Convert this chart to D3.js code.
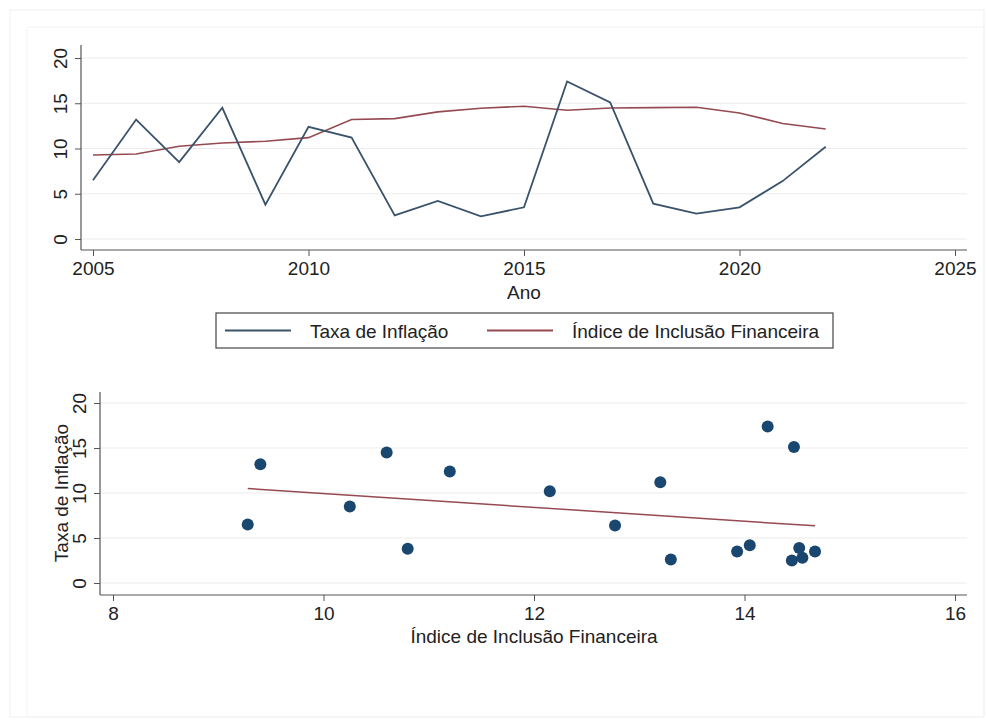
<!DOCTYPE html>
<html>
<head>
<meta charset="utf-8">
<script src="https://cdn.jsdelivr.net/npm/d3@7"></script>
<style>
    body { margin: 0; background: #fff; }
    svg { font-family: Arial, "Liberation Sans", sans-serif; }
    .tick text { fill: #222; }
</style>
</head>
<body>
<div id="chart"></div>
<script>
// Data
const years = [2005, 2006, 2007, 2008, 2009, 2010, 2011, 2012, 2013, 2014, 2015, 2016, 2017, 2018, 2019, 2020, 2021, 2022];
const inflation = [6.5, 13.2, 8.5, 14.5, 3.8, 12.4, 11.2, 2.6, 4.2, 2.5, 3.5, 17.4, 15.1, 3.9, 2.8, 3.5, 6.4, 10.2];
const inclusion = [9.28, 9.4, 10.25, 10.6, 10.8, 11.2, 13.2, 13.3, 14.05, 14.45, 14.67, 14.22, 14.47, 14.52, 14.55, 13.93, 12.77, 12.15];
const yearTicks = [2005, 2010, 2015, 2020, 2025];
const inclusionTicks = [8, 10, 12, 14, 16];
const inflationTicks = [0, 5, 10, 15, 20];
const seriesNames = ['Taxa de Inflação', 'Índice de Inclusão Financeira'];

const navy = '#3a536b';
const maroon = '#954a52';
const dotColor = '#1a476f';
const gridColor = '#ececec';
const axisColor = '#555';
const fontSize = 19;

const data = years.map((year, i) => ({ year, inflation: inflation[i], inclusion: inclusion[i] }));

const svg = d3.select('#chart')
    .append('svg')
    .attr('width', 986)
    .attr('height', 720);

// Outer frames
svg.append('rect')
    .attr('x', 10).attr('y', 10).attr('width', 974).attr('height', 707)
    .attr('fill', 'none').attr('stroke', '#efefef');
svg.append('rect')
    .attr('x', 27).attr('y', 27).attr('width', 957).attr('height', 690)
    .attr('fill', 'none').attr('stroke', '#f3f3f3');

// Draw a Stata-like axis pair
function drawAxes(g, x, y, xTicks, yTicks, xFormat, box) {
    // Grid
    g.append('g')
        .selectAll('line')
        .data(yTicks)
        .join('line')
        .attr('x1', box.left)
        .attr('x2', box.right)
        .attr('y1', d => y(d))
        .attr('y2', d => y(d))
        .attr('stroke', gridColor)
        .attr('stroke-width', 1.2);

    // Y axis
    const yAxis = g.append('g')
        .attr('transform', `translate(${box.left},0)`)
        .call(d3.axisLeft(y).tickValues(yTicks).tickSize(6).tickPadding(6).tickSizeOuter(0));
    yAxis.select('.domain').remove();
    yAxis.append('line')
        .attr('y1', box.top).attr('y2', box.bottom)
        .attr('stroke', axisColor).attr('stroke-width', 1.2);
    yAxis.selectAll('.tick line').attr('stroke', axisColor);
    yAxis.selectAll('.tick text')
        .attr('font-size', fontSize)
        .attr('x', 0).attr('dy', 0)
        .attr('text-anchor', 'middle')
        .attr('transform', 'translate(-14,0) rotate(-90)');

    // X axis
    const xAxis = g.append('g')
        .attr('transform', `translate(0,${box.bottom})`)
        .call(d3.axisBottom(x).tickValues(xTicks).tickFormat(xFormat).tickSize(6).tickPadding(6).tickSizeOuter(0));
    xAxis.select('.domain').remove();
    xAxis.append('line')
        .attr('x1', box.left).attr('x2', box.right)
        .attr('stroke', axisColor).attr('stroke-width', 1.2);
    xAxis.selectAll('.tick line').attr('stroke', axisColor);
    xAxis.selectAll('.tick text').attr('font-size', fontSize);
}

// Top chart: time series
const topChart = svg.append('g');
const topBox = { left: 81, right: 967, top: 45, bottom: 250 };

const xTime = d3.scaleLinear()
    .domain([2005, 2025])
    .range([93, 955]);

const yTop = d3.scaleLinear()
    .domain([0, 20])
    .range([239, 58]);

drawAxes(topChart, xTime, yTop, yearTicks, inflationTicks, d3.format('d'), topBox);

topChart.append('text')
    .attr('x', xTime(2015))
    .attr('y', topBox.bottom + 49)
    .attr('text-anchor', 'middle')
    .attr('font-size', fontSize)
    .attr('fill', '#222')
    .text('Ano');

const line = key => d3.line()
    .x(d => xTime(d.year))
    .y(d => yTop(d[key]));

topChart.append('path')
    .datum(data)
    .attr('fill', 'none')
    .attr('stroke', maroon)
    .attr('stroke-width', 1.6)
    .attr('d', line('inclusion'));

topChart.append('path')
    .datum(data)
    .attr('fill', 'none')
    .attr('stroke', navy)
    .attr('stroke-width', 1.8)
    .attr('stroke-linejoin', 'miter')
    .attr('d', line('inflation'));

// Legend
const legend = svg.append('g')
    .attr('transform', 'translate(216,313)');

legend.append('rect')
    .attr('width', 617)
    .attr('height', 35)
    .attr('fill', '#fff')
    .attr('stroke', '#444')
    .attr('stroke-width', 1.2);

const legendItems = [
    { name: seriesNames[0], color: navy, x: 9 },
    { name: seriesNames[1], color: maroon, x: 271 }
];

legendItems.forEach(item => {
    legend.append('line')
        .attr('x1', item.x).attr('x2', item.x + 66)
        .attr('y1', 17.5).attr('y2', 17.5)
        .attr('stroke', item.color)
        .attr('stroke-width', 1.8);
    legend.append('text')
        .attr('x', item.x + 85)
        .attr('y', 24.5)
        .attr('font-size', fontSize)
        .attr('fill', '#222')
        .text(item.name);
});

// Bottom chart: scatter with fitted line
const bottomChart = svg.append('g');
const bottomBox = { left: 100, right: 967, top: 392, bottom: 595 };

const xInc = d3.scaleLinear()
    .domain([8, 16])
    .range([113, 955]);

const yBottom = d3.scaleLinear()
    .domain([0, 20])
    .range([583, 403]);

drawAxes(bottomChart, xInc, yBottom, inclusionTicks, inflationTicks, d3.format('d'), bottomBox);

bottomChart.append('text')
    .attr('x', xInc(12))
    .attr('y', bottomBox.bottom + 48)
    .attr('text-anchor', 'middle')
    .attr('font-size', fontSize)
    .attr('fill', '#222')
    .text(seriesNames[1]);

bottomChart.append('text')
    .attr('transform', `translate(68,${yBottom(10)}) rotate(-90)`)
    .attr('text-anchor', 'middle')
    .attr('font-size', fontSize)
    .attr('fill', '#222')
    .text(seriesNames[0]);

// Scatter points
bottomChart.append('g')
    .selectAll('circle')
    .data(data)
    .join('circle')
    .attr('cx', d => xInc(d.inclusion))
    .attr('cy', d => yBottom(d.inflation))
    .attr('r', 6)
    .attr('fill', dotColor);

// Linear fit (least squares)
const mx = d3.mean(data, d => d.inclusion);
const my = d3.mean(data, d => d.inflation);
const slope = d3.sum(data, d => (d.inclusion - mx) * (d.inflation - my)) / d3.sum(data, d => (d.inclusion - mx) ** 2);
const intercept = my - slope * mx;
const fitX = d3.extent(data, d => d.inclusion);

bottomChart.append('line')
    .attr('x1', xInc(fitX[0]))
    .attr('x2', xInc(fitX[1]))
    .attr('y1', yBottom(intercept + slope * fitX[0]))
    .attr('y2', yBottom(intercept + slope * fitX[1]))
    .attr('stroke', maroon)
    .attr('stroke-width', 1.5);
</script>
</body>
</html>
